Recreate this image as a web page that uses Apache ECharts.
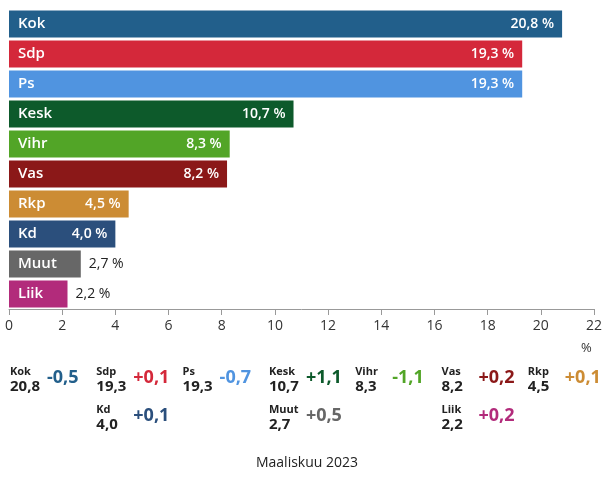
<!DOCTYPE html>
<html>
<head>
<meta charset="utf-8">
<style>
  html, body { margin: 0; padding: 0; background: #fff; }
  #chart { width: 614px; height: 486px; }
</style>
<script src="https://cdn.jsdelivr.net/npm/echarts@6/dist/echarts.min.js"></script>
</head>
<body>
<div id="chart"></div>
<script>
// kannatus %, maaliskuu 2023
var parties = ['Kok', 'Sdp', 'Ps', 'Kesk', 'Vihr', 'Vas', 'Rkp', 'Kd', 'Muut', 'Liik']
var support = [20.8, 19.3, 19.3, 10.7, 8.3, 8.2, 4.5, 4.0, 2.7, 2.2]
var change = [-0.5, 0.1, -0.7, 1.1, -1.1, 0.2, 0.1, 0.1, 0.5, 0.2]
var colors = ['#225f8b', '#d4283a', '#5094e0', '#0d5a2b', '#52a527', '#8b1818', '#cc8c34', '#2b4f7c', '#676767', '#b22b7b']
var xTicks = [0, 2, 4, 6, 8, 10, 12, 14, 16, 18, 20, 22]

// muutostaulukon solut [sarake, rivi]
var cells = [[0, 0], [1, 0], [2, 0], [3, 0], [4, 0], [5, 0], [6, 0], [1, 1], [3, 1], [5, 1]]

var FONT = '"Open Sans", "Noto Sans", sans-serif'

function fi(v, dec) {
  return v.toFixed(dec).replace('.', ',')
}

var chart = echarts.init(document.getElementById('chart'))

var graphics = []
cells.forEach(function(c, i) {
  var x = 10 + c[0] * 86.3
  var y = 366 + c[1] * 38
  graphics.push({
    type: 'text', left: x, top: y,
    style: { text: parties[i], font: 'bold 11px ' + FONT, fill: '#222' }
  })
  graphics.push({
    type: 'text', left: x, top: y + 13,
    style: { text: fi(support[i], 1), font: 'bold 15px ' + FONT, fill: '#222' }
  })
  graphics.push({
    type: 'text', left: x + 37, top: y + 3,
    style: { text: (change[i] > 0 ? '+' : '-') + fi(Math.abs(change[i]), 1), font: 'bold 18px ' + FONT, fill: colors[i] }
  })
})
graphics.push({
  type: 'text', left: 581, top: 342,
  style: { text: '%', font: '13px ' + FONT, fill: '#333' }
})
graphics.push({
  type: 'text', left: 'center', top: 456,
  style: { text: 'Maaliskuu 2023', font: '14px ' + FONT, fill: '#222' }
})

chart.setOption({
  animation: false,
  textStyle: { fontFamily: FONT },
  grid: { left: 9, right: 20, top: 9, bottom: 177, containLabel: false },
  xAxis: {
    type: 'value',
    min: xTicks[0],
    max: xTicks[xTicks.length - 1],
    interval: 2,
    splitLine: { show: false },
    axisLine: { show: true, lineStyle: { color: '#999' } },
    axisTick: { show: true, length: 6, lineStyle: { color: '#999' } },
    axisLabel: { color: '#333', fontSize: 14, margin: 10 }
  },
  yAxis: {
    type: 'category',
    data: parties,
    inverse: true,
    axisLine: { show: false },
    axisTick: { show: false },
    axisLabel: {
      inside: true,
      margin: 9,
      color: '#fff',
      fontSize: 15,
      fontWeight: 600,
      fontFamily: FONT
    },
    z: 10
  },
  series: [{
    type: 'bar',
    barCategoryGap: '10%',
    data: support.map(function(v, i) {
      var item = { value: v, itemStyle: { color: colors[i] } }
      if (v < 3) {
        item.label = { position: 'right', color: '#222', fontWeight: 'normal', distance: 8 }
      }
      return item
    }),
    label: {
      show: true,
      position: 'insideRight',
      distance: 8,
      color: '#fff',
      fontSize: 14,
      fontWeight: 600,
      formatter: function(p) { return fi(p.value, 1) + ' %' }
    }
  }],
  graphic: graphics
})
</script>
</body>
</html>
